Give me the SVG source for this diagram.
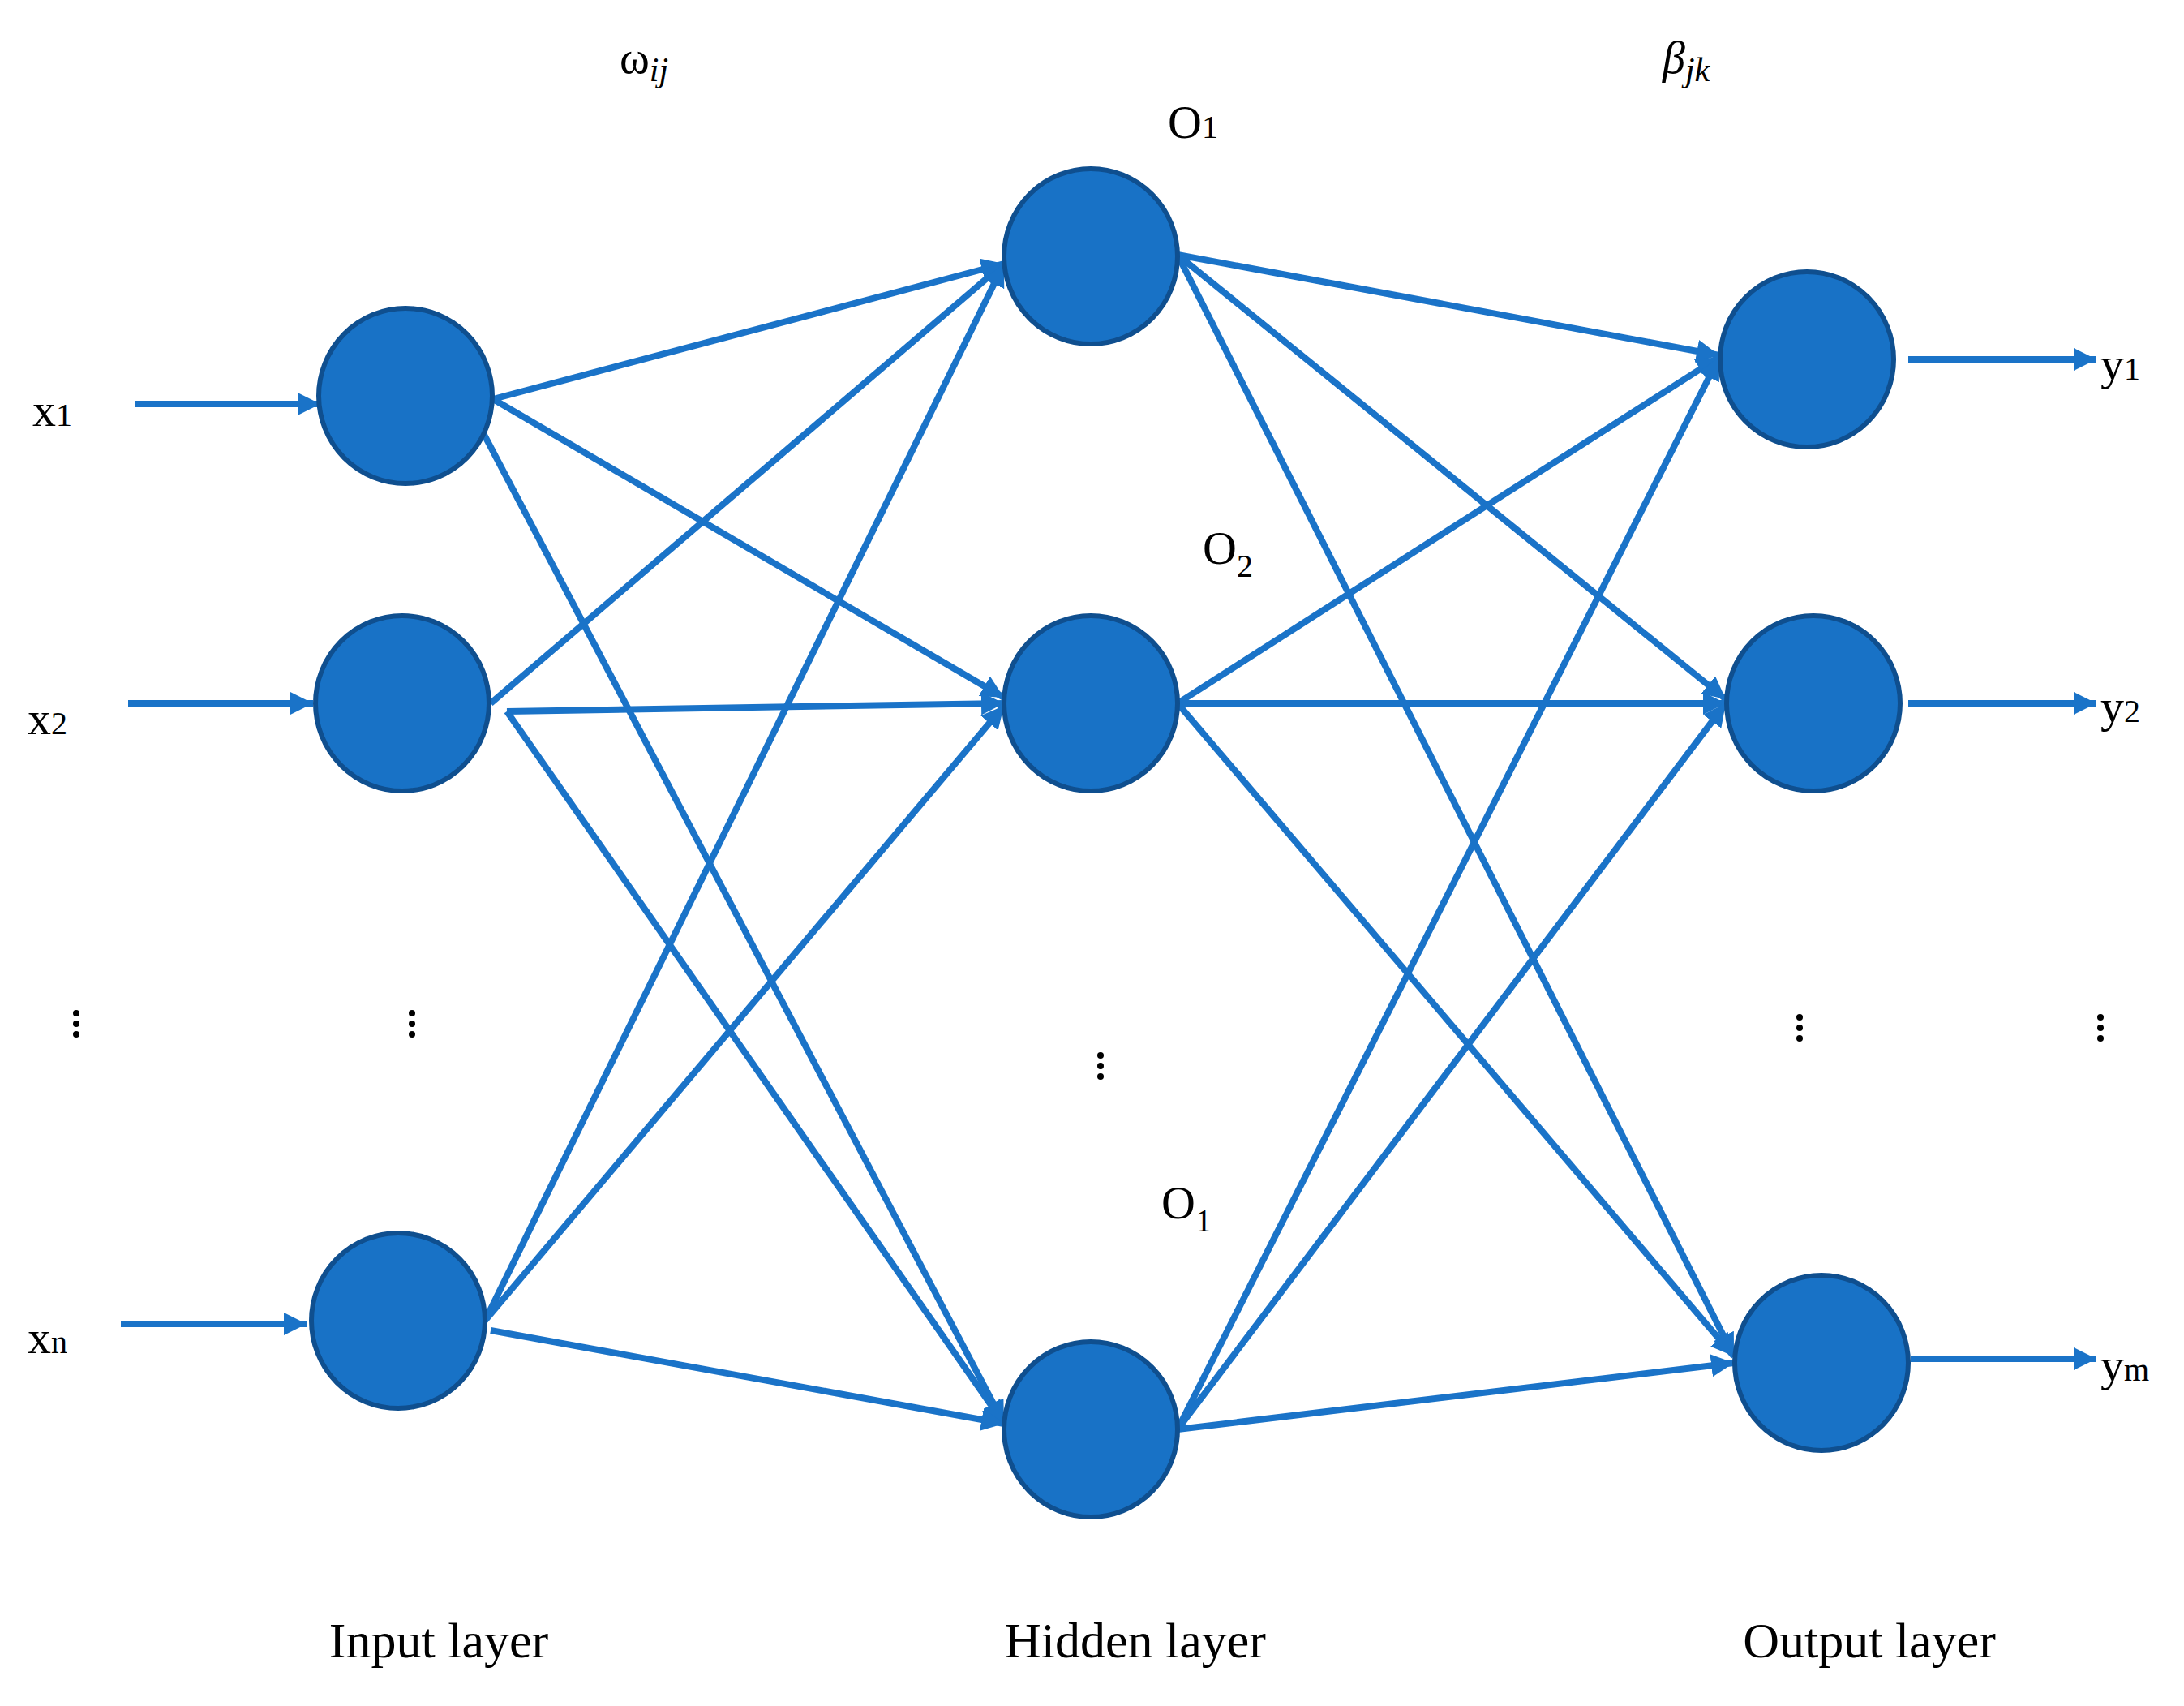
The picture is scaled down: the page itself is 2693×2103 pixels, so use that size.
<svg xmlns="http://www.w3.org/2000/svg" width="2693" height="2103" viewBox="0 0 2693 2103">
<style>
.n{fill:#1872c6;stroke:#0f4f8f;stroke-width:6}
.c{stroke:#1a73c8;stroke-width:8;fill:none;marker-end:url(#ah)}
.t{font-family:"Liberation Serif",serif;fill:#000}
.d{fill:#000}
</style>
<defs><marker id="ah" markerUnits="userSpaceOnUse" markerWidth="28" markerHeight="28" viewBox="0 0 10 10" refX="10" refY="5" orient="auto"><path d="M0,0L10,5L0,10z" fill="#1a73c8"/></marker></defs>
<rect width="2693" height="2103" fill="#fff"/>
<g id="connectors">
<path class="c" d="M167,498H395"/>
<path class="c" d="M158,867H386"/>
<path class="c" d="M149,1632H378"/>
<path class="c" d="M608,492L1238,325"/>
<path class="c" d="M608,492L1238,860"/>
<path class="c" d="M595,532L1238,1755"/>
<path class="c" d="M605,867L1238,325"/>
<path class="c" d="M625,877L1238,867"/>
<path class="c" d="M625,877L1238,1755"/>
<path class="c" d="M598,1628L1238,325"/>
<path class="c" d="M598,1628L1238,870"/>
<path class="c" d="M605,1640L1238,1755"/>
<path class="c" d="M1452,314L2120,438"/>
<path class="c" d="M1452,314L2128,862"/>
<path class="c" d="M1452,314L2138,1672"/>
<path class="c" d="M1452,867L2120,440"/>
<path class="c" d="M1452,867L2128,867"/>
<path class="c" d="M1452,867L2138,1672"/>
<path class="c" d="M1452,1762L2120,440"/>
<path class="c" d="M1452,1762L2128,867"/>
<path class="c" d="M1452,1762L2138,1680"/>
<path class="c" d="M2353,443H2585"/>
<path class="c" d="M2353,867H2585"/>
<path class="c" d="M2356,1675H2585"/>
</g>
<g id="in1"><ellipse class="n" cx="500" cy="488" rx="107" ry="108"/></g>
<g id="in2"><ellipse class="n" cx="496" cy="867" rx="107" ry="108"/></g>
<g id="inn"><ellipse class="n" cx="491" cy="1628" rx="107" ry="108"/></g>
<g id="h1"><ellipse class="n" cx="1345" cy="316" rx="107" ry="108"/></g>
<g id="h2"><ellipse class="n" cx="1345" cy="867" rx="107" ry="108"/></g>
<g id="h3"><ellipse class="n" cx="1345" cy="1762" rx="107" ry="108"/></g>
<g id="o1"><ellipse class="n" cx="2228" cy="443" rx="107" ry="108"/></g>
<g id="o2"><ellipse class="n" cx="2236" cy="867" rx="107" ry="108"/></g>
<g id="om"><ellipse class="n" cx="2246" cy="1680" rx="107" ry="108"/></g>
<g id="labels">
<text class="t" x="764" y="90" font-size="56">ω<tspan font-style="italic" font-size="42" dy="10">ij</tspan></text>
<text class="t" x="2050" y="90" font-size="56" font-style="italic">β<tspan font-size="42" dy="10">jk</tspan></text>
<text class="t" x="1440" y="170" font-size="58">O<tspan font-size="40">1</tspan></text>
<text class="t" x="1483" y="695" font-size="58">O<tspan font-size="40" dy="16">2</tspan></text>
<text class="t" x="1432" y="1502" font-size="58">O<tspan font-size="40" dy="16">1</tspan></text>
<text class="t" x="40" y="525" font-size="58">x<tspan font-size="40">1</tspan></text>
<text class="t" x="34" y="905" font-size="58">x<tspan font-size="40">2</tspan></text>
<text class="t" x="34" y="1668" font-size="58">x<tspan font-size="40">n</tspan></text>
<text class="t" x="2590" y="468" font-size="58">y<tspan font-size="40">1</tspan></text>
<text class="t" x="2590" y="890" font-size="58">y<tspan font-size="40">2</tspan></text>
<text class="t" x="2590" y="1702" font-size="58">y<tspan font-size="40">m</tspan></text>
<text class="t" x="541" y="2043" font-size="62" text-anchor="middle">Input layer</text>
<text class="t" x="1400" y="2043" font-size="62" text-anchor="middle">Hidden layer</text>
<text class="t" x="2305" y="2043" font-size="62" text-anchor="middle">Output layer</text>
</g>
<g id="dots" class="d">
<circle cx="94" cy="1249" r="4"/><circle cx="94" cy="1262" r="4"/><circle cx="94" cy="1275" r="4"/>
<circle cx="508" cy="1249" r="4"/><circle cx="508" cy="1262" r="4"/><circle cx="508" cy="1275" r="4"/>
<circle cx="1357" cy="1301" r="4"/><circle cx="1357" cy="1314" r="4"/><circle cx="1357" cy="1327" r="4"/>
<circle cx="2219" cy="1254" r="4"/><circle cx="2219" cy="1267" r="4"/><circle cx="2219" cy="1280" r="4"/>
<circle cx="2590" cy="1254" r="4"/><circle cx="2590" cy="1267" r="4"/><circle cx="2590" cy="1280" r="4"/>
</g>
</svg>
